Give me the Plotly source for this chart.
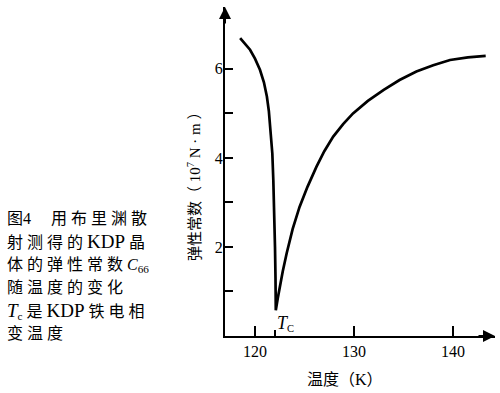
import plotly.graph_objects as go

# Data
temp = [118.5, 119.0, 119.5, 120.0, 120.5, 120.9, 121.2, 121.4, 121.6, 121.75, 121.85, 121.95,
        122.02, 122.07, 122.1, 122.3, 122.5, 122.8, 123.2, 123.8, 124.5, 125.3, 126.2, 127.0,
        127.9, 128.9, 129.9, 131.4, 133.0, 134.6, 136.3, 138.0, 139.7, 141.5, 143.3]
c66 = [6.69, 6.57, 6.43, 6.23, 5.98, 5.70, 5.38, 5.05, 4.60, 4.10, 3.50, 2.80,
       2.00, 1.30, 0.58, 0.85, 1.11, 1.45, 1.86, 2.40, 2.90, 3.35, 3.80, 4.15,
       4.48, 4.76, 5.00, 5.28, 5.53, 5.75, 5.94, 6.08, 6.20, 6.26, 6.29]

x_ticks = [120, 130, 140]
x_minor = [122]
y_ticks = [2, 4, 6]
y_minor = [1, 3, 5]

KDP = '<span style="font-size:19px">KDP</span>'
caption_lines = [
    "图4\u3000 用 布 里 渊 散",
    "射 测 得 的 " + KDP + " 晶",
    "体 的 弹 性 常 数 <i>C</i><sub>66</sub>",
    "随 温 度 的 变 化",
    '<span style="font-size:19px"><i>T</i></span><sub>c</sub> 是 ' + KDP + " 铁 电 相",
    "变 温 度",
]
caption_y_px = [218, 241, 265, 287, 311, 333]

FONT = "Liberation Serif, Noto Sans CJK SC, serif"

L, R, T, B = 225, 5, 7, 57
W, H = 500, 393
pw = W - L - R
ph = H - T - B

fig = go.Figure()
fig.add_trace(go.Scatter(x=temp, y=c66, mode="lines",
                         line=dict(color="black", width=2.7), hoverinfo="skip",
                         showlegend=False))

fig.update_layout(
    width=W, height=H,
    margin=dict(l=L, r=R, t=T, b=B),
    paper_bgcolor="white", plot_bgcolor="white",
    font=dict(family=FONT, color="black", size=15),
    xaxis=dict(range=[116.97, 144.24], showgrid=False, zeroline=False,
               showline=True, linecolor="black", linewidth=2,
               tickmode="array", tickvals=x_ticks, ticks="inside", ticklen=10,
               tickwidth=2, tickcolor="black", tickfont=dict(size=16),
               minor=dict(tickmode="array", tickvals=x_minor, ticks="inside",
                          ticklen=6, tickwidth=2, tickcolor="black")),
    yaxis=dict(range=[0, 7.39], showgrid=False, zeroline=False,
               showline=True, linecolor="black", linewidth=2,
               tickmode="array", tickvals=y_ticks,
               ticks="inside", ticklen=8, tickwidth=2, tickcolor="black",
               tickfont=dict(size=16), ticklabelstandoff=-3,
               minor=dict(tickmode="array", tickvals=y_minor, ticks="inside",
                          ticklen=8, tickwidth=2, tickcolor="black")),
)

# x-axis title
fig.add_annotation(text="温度（K）", xref="paper", yref="paper",
                   x=(345 - L) / pw, y=(H - B - 379) / ph,
                   xanchor="center", yanchor="middle",
                   showarrow=False, font=dict(size=16))

# y-axis title as rotated annotation
fig.add_annotation(text="弹性常数（ 10<sup>7</sup> N · m ）", textangle=-90,
                   xref="paper", yref="paper",
                   x=(194 - L) / pw, y=(H - B - 183) / ph,
                   xanchor="center", yanchor="middle",
                   showarrow=False, font=dict(size=15))

# Tc label
fig.add_annotation(text='<span style="font-size:18px"><i>T</i></span><sub>C</sub>',
                   x=122.05, y=0.28, xref="x", yref="y", xanchor="left",
                   yanchor="middle", showarrow=False, font=dict(size=15))

# axis arrows
fig.add_annotation(x=1, y=0, xref="paper", yref="paper", ax=-18, ay=0,
                   showarrow=True, arrowhead=2, arrowsize=1.2, arrowwidth=2,
                   arrowcolor="black", text="")
fig.add_annotation(x=0, y=1, xref="paper", yref="paper", ax=0, ay=18,
                   showarrow=True, arrowhead=2, arrowsize=1.2, arrowwidth=2,
                   arrowcolor="black", text="")

for line, ypx in zip(caption_lines, caption_y_px):
    fig.add_annotation(text=line, xref="paper", yref="paper",
                       x=(5 - L) / pw, y=(H - B - ypx) / ph,
                       xanchor="left", yanchor="middle", showarrow=False,
                       font=dict(size=16))

fig.write_html("out.html", config={"displayModeBar": False},
               post_script="document.body.style.margin='0';document.body.style.padding='0';")
